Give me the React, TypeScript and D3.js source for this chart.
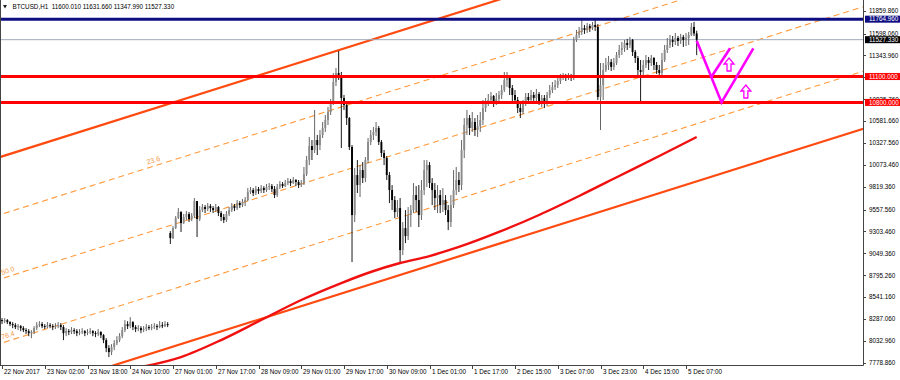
import React from "react";
import * as d3 from "d3";

// ---------------- DATA ----------------
const symbol = "BTCUSD,H1";
const firstOpen = 8276;
const gapBar = 63;
const gapOpen = 9285;

const closes = [
  8264, 8276, 8253, 8230, 8218, 8195, 8206, 8183, 8160, 8148,
  8125, 8137, 8183, 8218, 8230, 8206, 8195, 8218, 8206, 8195,
  8206, 8218, 8195, 8125, 8148, 8137, 8160, 8148, 8125, 8137,
  8148, 8125, 8137, 8148, 8125, 8114, 8137, 8102, 8044, 7951,
  7905, 7963, 8009, 8044, 8090, 8160, 8230, 8206, 8253, 8195,
  8172, 8183, 8160, 8172, 8195, 8183, 8195, 8206, 8195, 8218,
  8206, 8230, 8218,
  9227, 9343, 9459, 9529, 9401, 9471, 9506, 9448, 9482, 9656,
  9448, 9552, 9587, 9564, 9598, 9575, 9552, 9587, 9517, 9471,
  9436, 9506, 9552, 9598, 9575, 9633, 9610, 9645, 9668, 9761,
  9784, 9749, 9796, 9772, 9807, 9784, 9819, 9830, 9796, 9726,
  9819, 9854, 9830, 9865, 9888, 9865, 9900, 9877, 9842, 9865,
  9970, 10132, 10294, 10248, 10364, 10306, 10422, 10503, 10596, 10689,
  10793, 11037, 11141, 11118, 10851, 10770, 10619, 10283, 9494, 9958,
  9842, 10016, 9923, 10132, 10341, 10422, 10457, 10503, 10341, 10213,
  10155, 9958, 9784, 9668, 9529, 9575, 9088, 9343, 9250, 9494,
  9552, 9726, 9668, 9494, 9784, 10016, 10074, 9865, 9784, 9691,
  9726, 9610, 9668, 9552, 9413, 9610, 9784, 9900, 9842, 10248,
  10538, 10619, 10503, 10573, 10480, 10526, 10596, 10735, 10793, 10828,
  10874, 10805, 10840, 10886, 10944, 11060, 11083, 10967, 10886, 10828,
  10735, 10689, 10793, 10863, 10828, 10886, 10851, 10898, 10805, 10851,
  10782, 10886, 10944, 10979, 11002, 11048, 11083, 11106, 11083, 11106,
  11083, 11524, 11582, 11617, 11663, 11640, 11686, 11663, 11698, 11675,
  10863, 11002, 11176, 11234, 11269, 11211, 11257, 11350, 11408, 11431,
  11489, 11466, 11524, 11385, 11315, 11176, 11153, 11234, 11292, 11257,
  11315, 11234, 11176, 11141, 11292, 11408, 11466, 11524, 11501, 11547,
  11512, 11559, 11524, 11547, 11582, 11675, 11600.01, 11527.33,
];

const highs = [
  8299, 8299, 8288, 8264, 8253, 8241, 8230, 8218, 8206, 8183,
  8172, 8160, 8206, 8253, 8264, 8253, 8230, 8253, 8241, 8230,
  8241, 8253, 8241, 8218, 8183, 8172, 8195, 8183, 8172, 8172,
  8183, 8160, 8172, 8183, 8160, 8148, 8172, 8148, 8114, 8067,
  7986, 7998, 8044, 8090, 8125, 8195, 8276, 8264, 8311, 8264,
  8218, 8218, 8206, 8206, 8230, 8218, 8230, 8241, 8230, 8264,
  8253, 8264, 8253,
  9308, 9366, 9482, 9575, 9540, 9506, 9540, 9529, 9517, 9691,
  9633, 9598, 9622, 9610, 9633, 9622, 9598, 9622, 9598, 9540,
  9506, 9540, 9587, 9633, 9622, 9668, 9656, 9680, 9703, 9807,
  9819, 9807, 9830, 9819, 9842, 9830, 9854, 9865, 9854, 9830,
  9854, 9888, 9877, 9900, 9923, 9912, 9935, 9912, 9900, 9900,
  10051, 10178, 10399, 10364, 10712, 10422, 10480, 10573, 10654, 10747,
  10840, 11141, 11199, 11396, 11153, 10886, 10793, 10631, 10306, 10039,
  10132, 10074, 10109, 10167, 10387, 10480, 10515, 10573, 10526, 10364,
  10248, 10178, 9993, 9842, 9714, 9668, 9691, 9413, 9552, 9587,
  9610, 9865, 9830, 9842, 9900, 10132, 10132, 10109, 9923, 9865,
  9842, 9784, 9807, 9726, 9610, 9726, 10016, 10051, 9993, 10364,
  10619, 10712, 10654, 10689, 10619, 10654, 10689, 10828, 10851, 10898,
  10921, 10886, 10909, 10932, 11002, 11153, 11153, 11106, 11002, 10944,
  10863, 10805, 10828, 10909, 10909, 10944, 10921, 10956, 10921, 10886,
  10886, 10921, 11002, 11037, 11060, 11095, 11130, 11141, 11130, 11141,
  11130, 11559, 11640, 11675, 11756, 11698, 11721, 11710, 11733, 11764.96,
  11710, 11257, 11257, 11315, 11338, 11304, 11315, 11385, 11466, 11501,
  11524, 11536, 11559, 11536, 11408, 11338, 11292, 11292, 11350, 11327,
  11350, 11327, 11269, 11234, 11373, 11466, 11547, 11582, 11570, 11605,
  11570, 11594, 11582, 11605, 11617, 11721, 11733, 11631.66,
];

const lows = [
  8230, 8241, 8230, 8206, 8183, 8172, 8160, 8148, 8137, 8114,
  8090, 8067, 8114, 8160, 8195, 8183, 8172, 8183, 8183, 8160,
  8172, 8183, 8160, 8044, 8090, 8102, 8114, 8114, 8090, 8102,
  8114, 8090, 8102, 8114, 8090, 8079, 8090, 8067, 8009, 7905,
  7847, 7870, 7928, 7986, 8021, 8067, 8137, 8172, 8183, 8160,
  8137, 8148, 8125, 8137, 8148, 8160, 8160, 8172, 8160, 8183,
  8183, 8195, 8195,
  9158, 9216, 9332, 9448, 9297, 9390, 9436, 9413, 9424, 9459,
  9239, 9424, 9529, 9517, 9540, 9529, 9517, 9529, 9482, 9424,
  9401, 9413, 9482, 9529, 9540, 9552, 9575, 9587, 9598, 9656,
  9738, 9714, 9726, 9738, 9749, 9749, 9761, 9784, 9761, 9691,
  9703, 9796, 9807, 9819, 9842, 9830, 9854, 9830, 9807, 9819,
  9842, 9946, 10074, 10132, 10213, 10190, 10248, 10387, 10457, 10538,
  10654, 10770, 10990, 11060, 10271, 10712, 10538, 10248, 8949, 9413,
  9749, 9703, 9865, 9877, 10097, 10306, 10364, 10410, 10306, 10167,
  10074, 9900, 9633, 9552, 9459, 9471, 8949, 9030, 9169, 9204,
  9355, 9517, 9529, 9355, 9436, 9726, 9819, 9807, 9610, 9552,
  9517, 9517, 9529, 9494, 9320, 9355, 9575, 9726, 9761, 9784,
  10155, 10422, 10422, 10457, 10410, 10399, 10457, 10538, 10689, 10758,
  10782, 10747, 10770, 10793, 10840, 10921, 10979, 10886, 10793, 10782,
  10677, 10619, 10666, 10758, 10782, 10793, 10805, 10816, 10770, 10747,
  10735, 10758, 10851, 10909, 10944, 10967, 11014, 11060, 11048, 11060,
  11048, 11060, 11501, 11547, 11582, 11594, 11605, 11617, 11640, 11628,
  10828, 10480, 10828, 11153, 11176, 11164, 11176, 11234, 11315, 11350,
  11385, 11408, 11431, 11338, 11257, 11095, 10805, 11118, 11199, 11176,
  11222, 11176, 11130, 11095, 11118, 11269, 11373, 11431, 11443, 11466,
  11454, 11478, 11443, 11454, 11466, 11570, 11570, 11347.99,
];

const timeLabels = [
  "22 Nov 2017", "23 Nov 02:00", "23 Nov 18:00", "24 Nov 10:00", "27 Nov 01:00",
  "27 Nov 17:00", "28 Nov 09:00", "29 Nov 01:00", "29 Nov 17:00", "30 Nov 09:00",
  "1 Dec 01:00", "1 Dec 17:00", "2 Dec 15:00", "3 Dec 07:00", "3 Dec 23:00",
  "4 Dec 15:00", "5 Dec 07:00",
];
const timeLabelBars = [0, 16, 32, 48, 64, 80, 96, 112, 128, 144, 160, 176, 192, 208, 224, 240, 256];

const priceTicks = [
  11859.86, 11598.06, 11343.96, 11089.86, 10835.76, 10581.66, 10327.56, 10073.46,
  9819.36, 9557.56, 9303.46, 9049.36, 8795.26, 8541.16, 8287.06, 8032.96, 7778.86,
];

const resistanceLevel = 11764.96;
const supportLevels = [11100, 10800];

const maBars = [52, 67, 82, 97, 112, 127, 138, 149, 160, 171, 186, 201, 216, 231, 246, 260];
const maValues = [7732, 7848, 8045, 8277, 8509, 8706, 8834, 8938, 9019, 9124, 9298, 9495, 9715, 9947, 10179, 10399];

const channelBars = [0, 180];
const channelTop = [10174, 11933];
const channelBottom = [7343, 9103];
const fibLevels = [0, 23.6, 50, 76.4, 100];
const fibLabelLevels = [23.6, 50, 76.4];
const fibLabelBars = [54.5, 0, 0];

const patternMain: [number, number][] = [[260, 11515], [269.3, 10800], [281.2, 11427]];
const patternInner: [number, number][] = [[265.6, 11100], [272.5, 11427]];
const arrowBars = [272.1, 278.4];
const arrowTops = [11315, 11002];

// ---------------- CHART ----------------
const W = 900;
const H = 380;
const PR = 863; // plot right
const PB = 365; // plot bottom
const FONT = "'Liberation Sans', Arial, sans-serif";
const FS = 6.3;

export default function App() {
  const x = d3.scaleLinear().domain([0, 256]).range([2, 686]);
  const y = d3.scaleLinear().domain([7778.86, 11859.86]).range([363, 11]);
  const n = closes.length;
  const opens = closes.map((c, i) => (i === 0 ? firstOpen : i === gapBar ? gapOpen : closes[i - 1]));
  const last = n - 1;
  const bid = closes[last];

  const topAt = d3.scaleLinear().domain(channelBars).range(channelTop);
  const botAt = d3.scaleLinear().domain(channelBars).range(channelBottom);
  const fibPrice = (b: number, lvl: number) => topAt(b) + (botAt(b) - topAt(b)) * (lvl / 100);
  const b0 = -10, b1 = 330;
  const angle = (Math.atan2(y(fibPrice(b1, 50)) - y(fibPrice(b0, 50)), x(b1) - x(b0)) * 180) / Math.PI;

  const maLine = d3
    .line<number>()
    .x((_, i) => x(maBars[i]))
    .y((v) => y(v))
    .curve(d3.curveMonotoneX)(maValues) as string;

  const pLine = d3
    .line<[number, number]>()
    .x((d) => x(d[0]))
    .y((d) => y(d[1]));

  const bodyW = 1.9;

  const arrowPath = (cx: number, top: number) =>
    `M${cx},${top} L${cx + 5},${top + 6} L${cx + 2},${top + 6} L${cx + 2},${top + 13} L${cx - 2},${top + 13} L${cx - 2},${top + 6} L${cx - 5},${top + 6} Z`;

  const header = `${symbol}  ${opens[last].toFixed(3)} ${highs[last].toFixed(3)} ${lows[last].toFixed(3)} ${closes[last].toFixed(3)}`;

  const boxes = [
    { v: resistanceLevel, bg: "#0e0e82" },
    { v: bid, bg: "#000000" },
    { v: supportLevels[0], bg: "#ff0000" },
    { v: supportLevels[1], bg: "#ff0000" },
  ];

  return (
    <svg
      width={W}
      height={H}
      style={{ position: "absolute", left: 0, top: 0, background: "#fff" }}
      fontFamily={FONT}
    >
      <defs>
        <clipPath id="plotClip">
          <rect x={1} y={0} width={PR - 1} height={PB} />
        </clipPath>
      </defs>
      <rect x={0} y={0} width={W} height={H} fill="#fff" />

      <g clipPath="url(#plotClip)">
        {/* fibo channel */}
        {fibLevels.map((lvl) => {
          const solid = lvl === 0 || lvl === 100;
          return (
            <line
              key={lvl}
              x1={x(b0)}
              y1={y(fibPrice(b0, lvl))}
              x2={x(b1)}
              y2={y(fibPrice(b1, lvl))}
              stroke={solid ? "#ff4a10" : "#ff9a3c"}
              strokeWidth={solid ? 2.2 : 1.1}
              strokeDasharray={solid ? undefined : "6 4"}
            />
          );
        })}
        {fibLabelLevels.map((lvl, i) => {
          const bx = x(fibLabelBars[i]);
          const by = y(fibPrice(fibLabelBars[i], lvl)) - 3.5;
          return (
            <text
              key={lvl}
              x={bx}
              y={by}
              fontSize={7}
              fill="#f39a45"
              transform={`rotate(${angle} ${bx} ${by})`}
            >
              {lvl.toFixed(1)}
            </text>
          );
        })}

        {/* bid line */}
        <line x1={0} x2={PR} y1={y(bid)} y2={y(bid)} stroke="#9eaabb" strokeWidth={1} />

        {/* candles */}
        {closes.map((c, i) => {
          const o = opens[i];
          const hi = Math.max(highs[i], o, c);
          const lo = Math.min(lows[i], o, c);
          const up = c >= o;
          const cx = x(i);
          const yt = y(Math.max(o, c));
          const yb = y(Math.min(o, c));
          return (
            <g key={i}>
              <line x1={cx} x2={cx} y1={y(hi)} y2={y(lo)} stroke={up ? "#555" : "#000"} strokeWidth={0.9} />
              <rect
                x={cx - bodyW / 2}
                y={yt}
                width={bodyW}
                height={Math.max(0.8, yb - yt)}
                fill={up ? "#8a8a8a" : "#000"}
              />
            </g>
          );
        })}

        {/* moving average */}
        <path d={maLine} fill="none" stroke="#f01010" strokeWidth={2.4} />

        {/* horizontal levels */}
        <line x1={0} x2={PR} y1={y(resistanceLevel)} y2={y(resistanceLevel)} stroke="#0e0e82" strokeWidth={3} />
        {supportLevels.map((v) => (
          <line key={v} x1={0} x2={PR} y1={y(v)} y2={y(v)} stroke="#ff0000" strokeWidth={3} />
        ))}

        {/* pattern */}
        <path d={pLine(patternMain) as string} fill="none" stroke="#ff00ff" strokeWidth={2.6} strokeLinejoin="miter" />
        <path d={pLine(patternInner) as string} fill="none" stroke="#ff00ff" strokeWidth={2.6} />
        {arrowBars.map((b, i) => (
          <path key={i} d={arrowPath(x(b), y(arrowTops[i]))} fill="#fff" stroke="#ff00ff" strokeWidth={1.3} />
        ))}
      </g>

      {/* frame */}
      <line x1={0.5} x2={0.5} y1={0} y2={PB} stroke="#444" strokeWidth={1} />
      <line x1={PR + 0.5} x2={PR + 0.5} y1={0} y2={PB + 0.5} stroke="#444" strokeWidth={1} />
      <line x1={0} x2={PR + 0.5} y1={PB + 0.5} y2={PB + 0.5} stroke="#444" strokeWidth={1} />

      {/* price axis */}
      {priceTicks.map((v) => (
        <g key={v}>
          <line x1={PR} x2={PR + 3} y1={Math.round(y(v)) + 0.5} y2={Math.round(y(v)) + 0.5} stroke="#444" />
          <text x={869} y={y(v) + 2.2} fontSize={FS} fill="#000">
            {v.toFixed(3)}
          </text>
        </g>
      ))}
      {boxes.map((b) => (
        <g key={b.v}>
          <rect x={865} y={y(b.v) - 3.5} width={35} height={7} fill={b.bg} />
          <text x={869} y={y(b.v) + 2.2} fontSize={FS} fill="#fff">
            {b.v.toFixed(3)}
          </text>
        </g>
      ))}

      {/* time axis */}
      {timeLabels.map((t, i) => {
        const tx = Math.round(x(timeLabelBars[i])) + 0.5;
        return (
          <g key={t}>
            <line x1={tx} x2={tx} y1={PB} y2={PB + 4} stroke="#444" />
            <text x={tx + 1.5} y={374} fontSize={FS} fill="#000">
              {t}
            </text>
          </g>
        );
      })}

      {/* header */}
      <path d="M3,5 L7,5 L5,8.5 Z" fill="#222" />
      <text x={12.5} y={9} fontSize={FS} fill="#000" style={{ whiteSpace: "pre" }}>
        {header}
      </text>
    </svg>
  );
}
